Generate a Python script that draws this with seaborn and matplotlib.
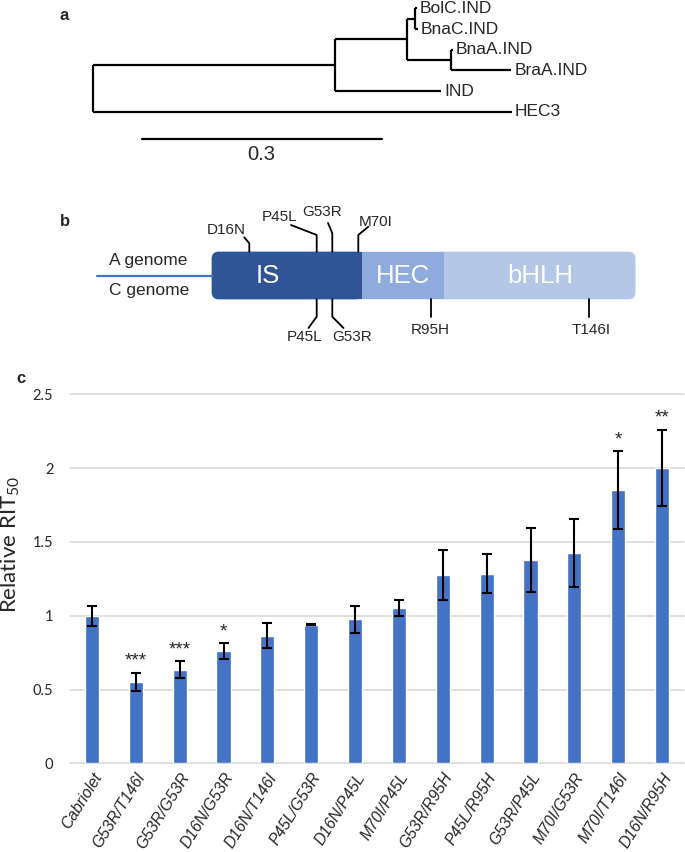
import numpy as np
import pandas as pd
import matplotlib
matplotlib.use("Agg")
import matplotlib.pyplot as plt
import seaborn as sns
from matplotlib.patches import FancyBboxPatch, Rectangle

# --- Panel c: relative RIT50 per genotype ---
genotypes = ["Cabriolet", "G53R/T146I", "G53R/G53R", "D16N/G53R", "D16N/T146I",
             "P45L/G53R", "D16N/P45L", "M70I/P45L", "G53R/R95H", "P45L/R95H",
             "G53R/P45L", "M70I/G53R", "M70I/T146I", "D16N/R95H"]
rit50 = [1.00, 0.55, 0.635, 0.76, 0.865, 0.94, 0.975, 1.05,
         1.275, 1.285, 1.375, 1.425, 1.85, 2.00]
rit50_err = [0.067, 0.063, 0.055, 0.054, 0.086, 0.004, 0.092, 0.055,
             0.167, 0.132, 0.216, 0.233, 0.265, 0.26]
signif = ["", "***", "***", "*", "", "", "", "", "", "", "", "", "*", "**"]
y_ticks = [0, 0.5, 1, 1.5, 2, 2.5]
y_tick_labels = ["0", "0.5", "1", "1.5", "2", "2.5"]

# --- Panel a: tree (parents listed before children) ---
leaf_order = ["BolC.IND", "BnaC.IND", "BnaA.IND", "BraA.IND", "IND", "HEC3"]
node_names = ["root", "ind_clade", "brassica", "c_pair", "a_pair",
              "BolC.IND", "BnaC.IND", "BnaA.IND", "BraA.IND", "IND", "HEC3"]
node_parent = [None, "root", "ind_clade", "brassica", "brassica",
               "c_pair", "c_pair", "a_pair", "a_pair", "ind_clade", "root"]
branch_len = [0.0, 0.302, 0.090, 0.0096, 0.0555,
              0.0025, 0.004, 0.002, 0.075, 0.133, 0.523]
scale_bar = 0.3

# --- Panel b: domain diagram (schematic positions) ---
domain_names = ["IS", "HEC", "bHLH"]
domain_start = [211.7, 362.3, 444.3]
domain_end = [362.3, 444.3, 635.5]
domain_colors = ["#2F5597", "#8FAADC", "#B4C7E7"]
mut_a = ["D16N", "P45L", "G53R", "M70I"]
mut_a_pos = [249.3, 316.7, 332.3, 358.3]
mut_c = ["P45L", "G53R", "R95H", "T146I"]
mut_c_pos = [316.7, 332.3, 430.7, 589.3]

BLUE = "#4472C4"
sns.set_style("white")
plt.rcParams["font.family"] = ["Liberation Sans", "DejaVu Sans"]
plt.rcParams["mathtext.fontset"] = "custom"
plt.rcParams["mathtext.rm"] = "Lato"
plt.rcParams["mathtext.it"] = "Lato:italic"

fig = plt.figure(figsize=(6.85, 8.52), dpi=100)

# ---------- panels a and b on a pixel-unit overlay ----------
top = fig.add_axes([0, 1 - 360 / 852, 1, 360 / 852])
top.set_xlim(0, 685)
top.set_ylim(360, 0)
top.axis("off")

# tree layout
dist = {}
for name, par, bl in zip(node_names, node_parent, branch_len):
    dist[name] = 0.0 if par is None else dist[par] + bl
ypos = {n: i for i, n in enumerate(leaf_order)}
for name in reversed(node_names):
    kids = [n for n, p in zip(node_names, node_parent) if p == name]
    if kids:
        ypos[name] = np.mean([ypos[k] for k in kids])

px = lambda d: 93.3 + 800 * d
py = lambda i: 8.3 + 20.7 * i
for name, par in zip(node_names, node_parent):
    kids = [n for n, p in zip(node_names, node_parent) if p == name]
    if kids:
        ys = [py(ypos[k]) for k in kids]
        top.plot([px(dist[name])] * 2, [min(ys), max(ys)], color="black", lw=1.6,
                 solid_capstyle="butt")
    if par is not None:
        top.plot([px(dist[par]), px(dist[name])], [py(ypos[name])] * 2,
                 color="black", lw=1.6, solid_capstyle="butt")
    if name in leaf_order:
        top.text(px(dist[name]) + 3, py(ypos[name]), name, ha="left", va="center",
                 fontsize=12.5)
top.plot([141.7, 141.7 + 800 * scale_bar], [139.3, 139.3], color="black", lw=1.6)
top.text(141.7 + 400 * scale_bar, 154, str(scale_bar), ha="center", va="center",
         fontsize=14.5)
top.text(60, 15, "a", ha="left", va="center", fontsize=12, fontweight="bold")

# domain diagram
box_top, box_bot = 251.7, 299.3
top.plot([96.7, 212], [276, 276], color=BLUE, lw=1.6)
top.add_patch(FancyBboxPatch((domain_start[0], box_top), domain_end[-1] - domain_start[0],
                             box_bot - box_top, boxstyle="round,pad=0,rounding_size=7",
                             fc=domain_colors[2], ec="none"))
top.add_patch(FancyBboxPatch((domain_start[0], box_top), domain_end[0] - domain_start[0],
                             box_bot - box_top, boxstyle="round,pad=0,rounding_size=7",
                             fc=domain_colors[0], ec="none"))
top.add_patch(Rectangle((domain_end[0] - 20, box_top), 20, box_bot - box_top,
                        fc=domain_colors[0], ec="none"))
top.add_patch(Rectangle((domain_start[1], box_top), domain_end[1] - domain_start[1],
                        box_bot - box_top, fc=domain_colors[1], ec="none"))
for name, s, e in zip(domain_names, domain_start, domain_end):
    cx = (s + e) / 2 if name != "IS" else 268
    top.text(cx, 276, name, ha="center", va="center", color="white", fontsize=18.5)
top.text(109, 260, "A genome", ha="left", va="center", fontsize=12.5)
top.text(109, 290, "C genome", ha="left", va="center", fontsize=12.5)

# leaders: (bend y, end dx, end y, label dx, label y)
lead_a = [(243.3, -5, 237.3, -23.5, 229.5), (235, -25.7, 225, -36.7, 217),
          (233.3, -4.3, 223, -10.6, 212.5), (235, 10, 226.7, 17.2, 221.5)]
lead_c = [(316.7, -8.2, 328, -11.7, 337), (316.7, 11.2, 328, 19.7, 337),
          (317.3, 0, 317.3, 0, 329.5), (317.3, 0, 317.3, 1.5, 329.5)]
for names, poses, leads, y0 in [(mut_a, mut_a_pos, lead_a, box_top),
                                (mut_c, mut_c_pos, lead_c, box_bot)]:
    for name, x, (yb, dx, ye, lx, ly) in zip(names, poses, leads):
        top.plot([x, x, x + dx], [y0, yb, ye], color="black", lw=1.3)
        top.text(x + lx, ly, name, ha="center", va="center", fontsize=11)
top.text(60, 221.7, "b", ha="left", va="center", fontsize=12, fontweight="bold")

# ---------- panel c ----------
ax = fig.add_axes([70 / 685, 1 - 763.3 / 852, 614 / 685, (763.3 - 394.3) / 852])
df = pd.DataFrame({"genotype": genotypes, "rit50": rit50, "err": rit50_err})
sns.barplot(data=df, x="genotype", y="rit50", order=genotypes, color=BLUE,
            saturation=1, width=0.32, errorbar=None, ax=ax)
ax.errorbar(np.arange(len(genotypes)), df["rit50"], yerr=df["err"], fmt="none",
            ecolor="black", elinewidth=1.5, capsize=3.35, capthick=1.5, zorder=3)
for i, s in enumerate(signif):
    if s:
        ax.text(i, rit50[i] + rit50_err[i] + 0.02, s, ha="center", va="bottom",
                fontsize=13.5)

ax.set_ylim(0, 2.5)
ax.set_xlim(-0.5, len(genotypes) - 0.5)
ax.set_yticks(y_ticks)
ax.set_yticklabels(y_tick_labels, family="Lato", fontsize=10.5)
ax.set_xticks(range(len(genotypes)))
ax.set_xticklabels(genotypes, rotation=58, ha="right", va="top",
                   rotation_mode="anchor", style="italic", fontsize=11.3)
ax.tick_params(axis="y", length=0, pad=12)
ax.tick_params(axis="x", length=0, pad=5)
ax.set_xlabel("")
ax.set_ylabel("")
sns.despine(ax=ax, left=True, bottom=True)
ax.set_axisbelow(True)
ax.yaxis.grid(True, color="#D9D9D9", lw=1.2)
ax.xaxis.grid(False)
for gl in ax.get_ygridlines():
    gl.set_clip_on(False)

fig.text(10 / 685, 1 - 544 / 852, "Relative RIT$_{50}$", rotation=90, ha="center",
         va="center", family="Lato", fontsize=16)
fig.text(16.7 / 685, 1 - 378 / 852, "c", ha="left", va="center", fontsize=12,
         fontweight="bold")

fig.savefig("out.png", dpi=100)
